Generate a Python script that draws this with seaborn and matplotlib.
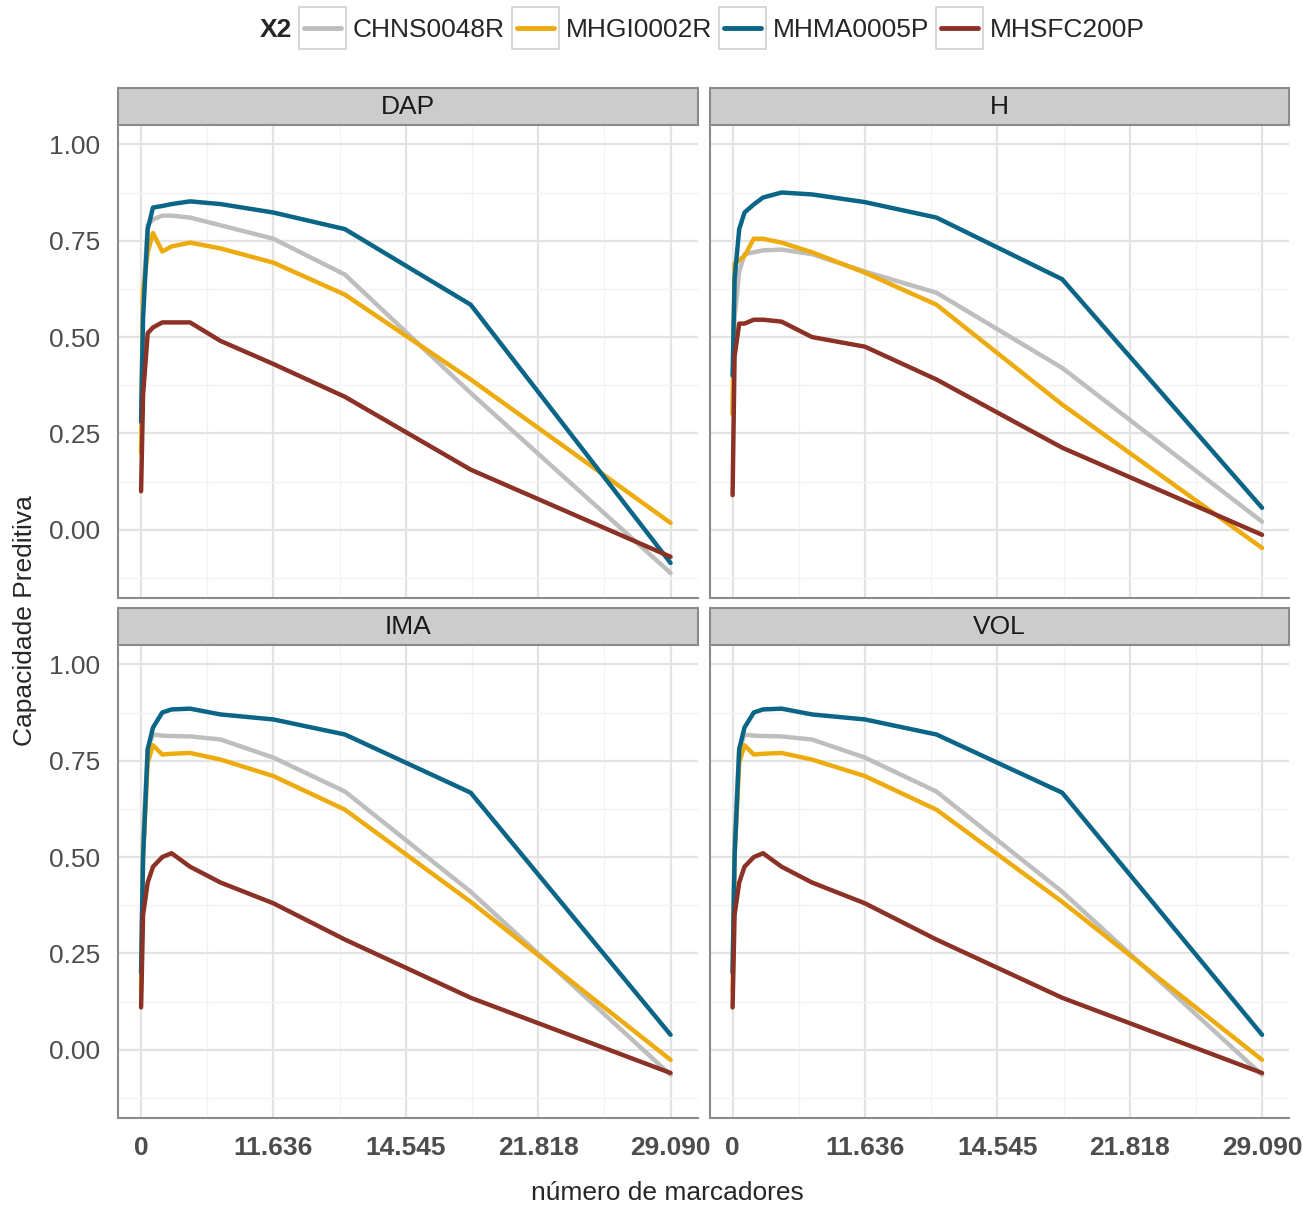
import numpy as np
import pandas as pd
import matplotlib
matplotlib.use('Agg')
import matplotlib.pyplot as plt
import seaborn as sns
from matplotlib.patches import Rectangle
from matplotlib.lines import Line2D
from matplotlib.legend_handler import HandlerLine2D

sns.set_theme(style="whitegrid")
plt.rcParams['font.family'] = ['Liberation Sans', 'DejaVu Sans']

# ---- data ----
x_pos = [0, 0.015, 0.05, 0.09, 0.16, 0.23, 0.37, 0.6, 1.0, 1.54, 2.49, 4.0]
x_ticks = [0, 1, 2, 3, 4]
x_labels = ['0', '11.636', '14.545', '21.818', '29.090']
markers = ['CHNS0048R', 'MHGI0002R', 'MHMA0005P', 'MHSFC200P']
traits = ['DAP', 'H', 'IMA', 'VOL']

dap_chns = [0.30, 0.60, 0.79, 0.805, 0.815, 0.815, 0.81, 0.79, 0.755, 0.662, 0.355, -0.112]
dap_mhgi = [0.20, 0.62, 0.72, 0.77, 0.722, 0.735, 0.745, 0.73, 0.693, 0.61, 0.39, 0.018]
dap_mhma = [0.28, 0.55, 0.78, 0.836, 0.84, 0.845, 0.852, 0.845, 0.823, 0.78, 0.584, -0.086]
dap_mhsfc = [0.10, 0.35, 0.51, 0.525, 0.538, 0.538, 0.538, 0.49, 0.43, 0.345, 0.156, -0.07]

h_chns = [0.30, 0.55, 0.67, 0.715, 0.72, 0.725, 0.727, 0.715, 0.67, 0.615, 0.42, 0.021]
h_mhgi = [0.30, 0.69, 0.70, 0.71, 0.755, 0.755, 0.745, 0.72, 0.667, 0.584, 0.325, -0.047]
h_mhma = [0.40, 0.65, 0.78, 0.823, 0.844, 0.862, 0.875, 0.87, 0.85, 0.81, 0.65, 0.057]
h_mhsfc = [0.09, 0.45, 0.535, 0.535, 0.545, 0.545, 0.54, 0.50, 0.475, 0.39, 0.213, -0.013]

ima_chns = [0.20, 0.55, 0.78, 0.818, 0.815, 0.814, 0.813, 0.805, 0.758, 0.67, 0.41, -0.065]
ima_mhgi = [0.15, 0.50, 0.745, 0.79, 0.766, 0.768, 0.77, 0.753, 0.71, 0.623, 0.384, -0.026]
ima_mhma = [0.20, 0.50, 0.78, 0.836, 0.875, 0.883, 0.885, 0.87, 0.857, 0.818, 0.667, 0.039]
ima_mhsfc = [0.11, 0.35, 0.434, 0.475, 0.50, 0.51, 0.475, 0.434, 0.38, 0.286, 0.135, -0.06]

vol_chns = [0.20, 0.55, 0.78, 0.818, 0.815, 0.814, 0.813, 0.805, 0.758, 0.67, 0.41, -0.065]
vol_mhgi = [0.15, 0.50, 0.745, 0.79, 0.766, 0.768, 0.77, 0.753, 0.71, 0.623, 0.384, -0.026]
vol_mhma = [0.20, 0.50, 0.78, 0.836, 0.875, 0.883, 0.885, 0.87, 0.857, 0.818, 0.667, 0.039]
vol_mhsfc = [0.11, 0.35, 0.434, 0.475, 0.50, 0.51, 0.475, 0.434, 0.38, 0.286, 0.135, -0.06]

series = {
    'DAP': [dap_chns, dap_mhgi, dap_mhma, dap_mhsfc],
    'H': [h_chns, h_mhgi, h_mhma, h_mhsfc],
    'IMA': [ima_chns, ima_mhgi, ima_mhma, ima_mhsfc],
    'VOL': [vol_chns, vol_mhgi, vol_mhma, vol_mhsfc],
}

rows = []
for t in traits:
    for m, vals in zip(markers, series[t]):
        for x, y in zip(x_pos, vals):
            rows.append({'trait': t, 'X2': m, 'x': x, 'y': y})
df = pd.DataFrame(rows)

palette = {'CHNS0048R': '#BEBEBE', 'MHGI0002R': '#EDAB0D',
           'MHMA0005P': '#0A6587', 'MHSFC200P': '#8B3125'}

# ---- plot ----
g = sns.relplot(data=df, x='x', y='y', hue='X2', hue_order=markers, col='trait',
                col_order=traits, col_wrap=2, kind='line', palette=palette,
                estimator=None, linewidth=3.2, legend=False, height=5, aspect=1)
fig = g.figure
fig.set_size_inches(13.03, 12.07)
fig.subplots_adjust(left=0.0906, right=0.9893, top=0.8964, bottom=0.0737,
                    wspace=0.0207, hspace=0.0994)
g.set_titles("")
g.set_axis_labels("", "")

strip_frac = 37 / 473
fs = 19
for i, (ax, t) in enumerate(zip(g.axes.flat, traits)):
    ax.set_xlim(-0.174, 4.204)
    ax.set_ylim(-0.177, 1.05)
    ax.set_xticks(x_ticks)
    ax.set_xticks(np.arange(0.5, 4.0, 1.0), minor=True)
    ax.set_yticks([0, 0.25, 0.5, 0.75, 1.0])
    ax.set_yticks(np.arange(-0.125, 1.05, 0.25), minor=True)
    ax.set_yticklabels(['0.00', '0.25', '0.50', '0.75', '1.00'])
    ax.set_xticklabels(x_labels, fontweight='bold')
    ax.set_facecolor('white')
    ax.grid(which='major', color='#E3E3E3', lw=1.6)
    ax.grid(which='minor', color='#F3F3F3', lw=1.0)
    ax.set_axisbelow(True)
    for s in ax.spines.values():
        s.set_color('#8A8A8A')
        s.set_linewidth(1.5)
    ax.tick_params(axis='both', which='major', labelsize=fs, labelcolor='#4D4D4D',
                   color='#333333', length=6, width=1.2, pad=7)
    ax.tick_params(which='minor', length=0)
    if i < 2:
        ax.tick_params(axis='x', length=0)
    if i % 2 == 1:
        ax.tick_params(axis='y', length=0)
    ax.add_patch(Rectangle((0, 1), 1, strip_frac, transform=ax.transAxes,
                           clip_on=False, facecolor='#CCCCCC', edgecolor='#8A8A8A',
                           linewidth=1.5))
    ax.text(0.5, 1 + strip_frac / 2, t, transform=ax.transAxes, ha='center',
            va='center', fontsize=fs, color='#1A1A1A')

fig.text(0.019, 0.4855, 'Capacidade Preditiva', rotation=90, ha='center',
         va='center', fontsize=fs)
fig.text(0.512, 0.0116, 'número de marcadores', ha='center', va='center', fontsize=fs)


# legend with boxed keys (ggplot style)
class BoxedLine(HandlerLine2D):
    def create_artists(self, legend, orig_handle, xdescent, ydescent, width,
                       height, fontsize, trans):
        arts = super().create_artists(legend, orig_handle, xdescent, ydescent,
                                      width, height, fontsize, trans)
        ey = 0.45 * fontsize
        ex = 0.2 * fontsize
        rect = Rectangle((-xdescent - ex, -ydescent - ey), width + 2 * ex,
                         height + 2 * ey, facecolor='white', edgecolor='#D0D0D0',
                         linewidth=1.2, transform=trans)
        return [rect] + list(arts)


handles = [Line2D([], [], color=palette[m], lw=3.5) for m in markers]
leg = fig.legend(handles, markers, loc='center', bbox_to_anchor=(0.556, 0.975),
                 ncol=4, frameon=False, fontsize=fs, handlelength=1.4,
                 handletextpad=0.45, columnspacing=0.45,
                 handler_map={Line2D: BoxedLine()})
fig.text(0.212, 0.975, 'X2', ha='center', va='center', fontsize=fs,
         fontweight='bold')

fig.savefig('out.png', dpi=100)
